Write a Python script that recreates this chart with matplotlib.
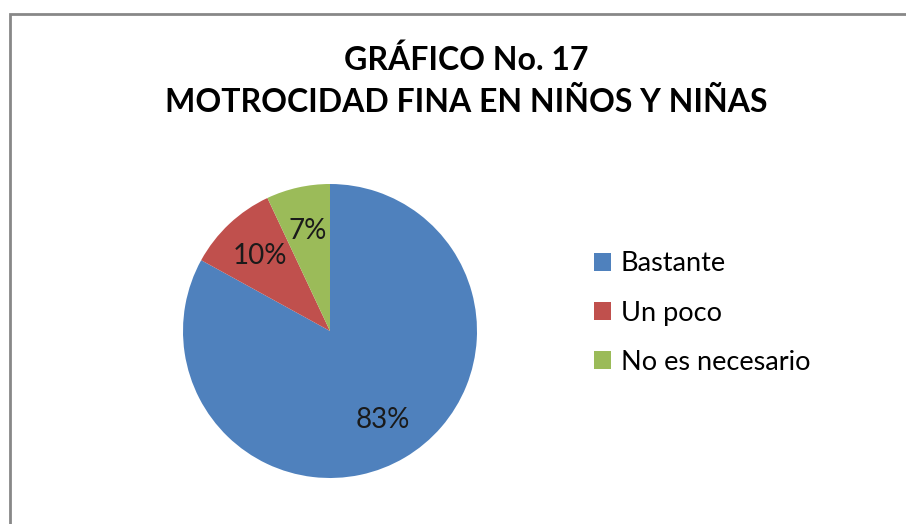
import matplotlib.pyplot as plt
from matplotlib.patches import Rectangle

# datos del gráfico
categorias = ["Bastante", "Un poco", "No es necesario"]
porcentajes = [83, 10, 7]
colores = ["#4F81BD", "#C0504D", "#9BBB59"]
titulo = "GRÁFICO No. 17\nMOTROCIDAD FINA EN NIÑOS Y NIÑAS"

plt.rcParams['font.family'] = ['Lato', 'DejaVu Sans']

W, H = 906, 524
fig = plt.figure(figsize=(W / 100, H / 100), dpi=100)
ax = fig.add_axes([0, 0, 1, 1])

# marco del gráfico (solo se ven arriba e izquierda)
ax.add_patch(Rectangle((10, -10), W + 20, H - 14 + 10, fill=False,
                       edgecolor="#888888", linewidth=2, clip_on=False))

wedges, textos, pcts = ax.pie(porcentajes, colors=colores, startangle=90,
                              counterclock=False, center=(330, H - 331),
                              radius=147, autopct='%d%%', pctdistance=0.7,
                              textprops={'fontsize': 20, 'color': '#1a1a1a'},
                              frame=True)
ax.set_xlim(0, W)
ax.set_ylim(0, H)
ax.set_aspect('equal')
ax.axis('off')

ax.text(466, H - 81, titulo, ha='center', va='center', fontsize=23,
        fontweight='bold', linespacing=1.47)

ax.legend(wedges, categorias, loc='center left', bbox_to_anchor=(580 / W, 1 - 313 / H),
          frameon=False, fontsize=19.5, handlelength=0.65, handleheight=0.65,
          labelspacing=0.9, handletextpad=0.35, borderpad=0)

fig.savefig("out.png", dpi=100)
